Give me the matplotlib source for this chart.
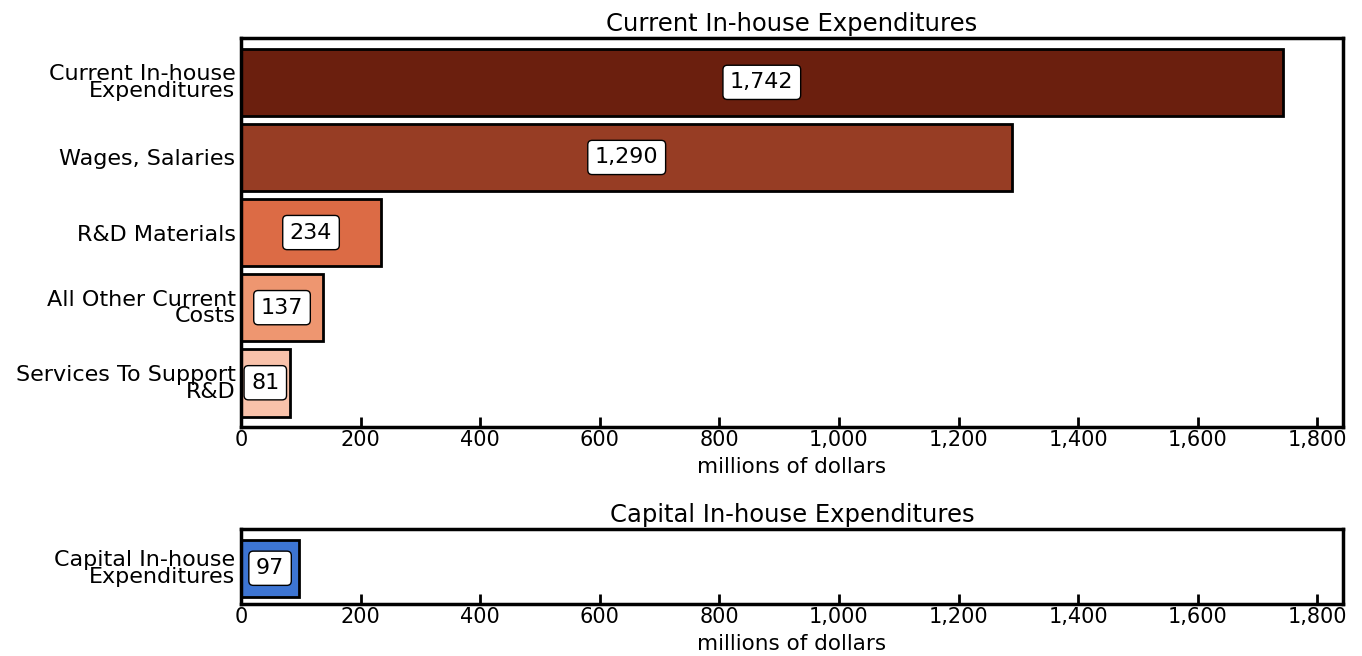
import matplotlib.pyplot as plt
from matplotlib.ticker import FuncFormatter

current_labels = ['Current In-house\nExpenditures', 'Wages, Salaries', 'R&D Materials',
                  'All Other Current\nCosts', 'Services To Support\nR&D']
current_values = [1742, 1290, 234, 137, 81]
current_colors = ['#6b1f0e', '#973d24', '#dc6b45', '#ee9670', '#f9c2aa']

capital_labels = ['Capital In-house\nExpenditures']
capital_values = [97]
capital_colors = ['#3d75d3']

x_max = 1843

fig = plt.figure(figsize=(13.62, 6.56), dpi=100)
ax1 = fig.add_axes([0.177, 0.349, 0.809, 0.593])
ax2 = fig.add_axes([0.177, 0.079, 0.809, 0.115])

comma = FuncFormatter(lambda v, p: f'{int(v):,}')


def draw(ax, labels, values, colors, title, height, ylim):
    y = list(range(len(values)))
    ax.barh(y, values, height=height, color=colors, edgecolor='black', linewidth=2)
    for yi, v in zip(y, values):
        ax.text(v / 2, yi, f'{v:,}', ha='center', va='center', fontsize=16,
                bbox=dict(boxstyle='round,pad=0.32,rounding_size=0.2', fc='white',
                          ec='black', lw=1))
    ax.set_yticks(y)
    ax.set_yticklabels(labels, fontsize=16, linespacing=0.8)
    ax.set_ylim(*ylim)
    ax.set_xlim(0, x_max)
    ax.set_xticks(range(0, 1801, 200))
    ax.xaxis.set_major_formatter(comma)
    ax.tick_params(axis='x', direction='in', length=7, width=2, labelsize=15, pad=2)
    ax.tick_params(axis='y', length=0, pad=4)
    for s in ax.spines.values():
        s.set_linewidth(2.5)
    ax.set_title(title, fontsize=17.5, pad=5)
    ax.set_xlabel('millions of dollars', fontsize=15.5, labelpad=5)


draw(ax1, current_labels, current_values, current_colors,
     'Current In-house Expenditures', 0.9, (4.59, -0.59))
draw(ax2, capital_labels, capital_values, capital_colors,
     'Capital In-house Expenditures', 0.8, (0.5, -0.55))

fig.savefig('out.png', dpi=100)
